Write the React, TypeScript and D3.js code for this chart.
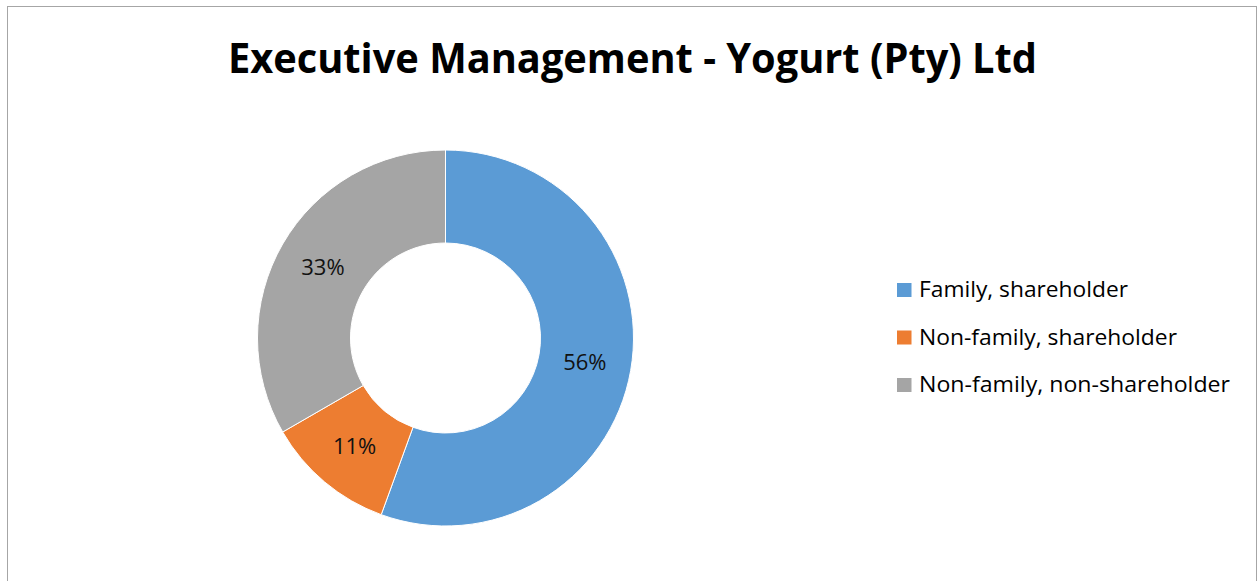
import React from "react";
import * as d3 from "d3";

const title = "Executive Management - Yogurt (Pty) Ltd";
const categories = ["Family, shareholder", "Non-family, shareholder", "Non-family, non-shareholder"];
const values = [5, 1, 3];
const colors = ["#5B9BD5", "#ED7D31", "#A5A5A5"];
const legendWidths = [209, 258, 311];

export default function App() {
  const W = 1258, H = 581;
  const cx = 445.5, cy = 338, R = 188, r = 95;
  const total = d3.sum(values);
  const pie = d3.pie<number>().sort(null).value((d) => d)(values);
  const arc = d3.arc<d3.PieArcDatum<number>>().innerRadius(r).outerRadius(R);
  const fmt = d3.format(".0%");
  return (
    <svg width={W} height={H} style={{ position: "absolute", left: 0, top: 0 }}>
      <rect x={0} y={0} width={W} height={H} fill="#fff" />
      <rect x={7.5} y={6.5} width={1249} height={H + 20} fill="#fff" stroke="#a6a6a6" strokeWidth={1} />
      <text x={228} y={73} fontFamily="'Open Sans', sans-serif" fontWeight={700} fontSize={42} fill="#000"
        textLength={809} lengthAdjust="spacingAndGlyphs">{title}</text>
      <g transform={`translate(${cx},${cy})`}>
        {pie.map((p, i) => (
          <path key={i} d={arc(p) || ""} fill={colors[i]} stroke="#fff" strokeWidth={1} />
        ))}
        {pie.map((p, i) => {
          const [x, y] = arc.centroid(p);
          return (
            <text key={"l" + i} x={x} y={y} dy="0.36em" textAnchor="middle" fontFamily="'Open Sans', sans-serif"
              fontSize={22} fill="#111">{fmt(values[i] / total)}</text>
          );
        })}
      </g>
      {categories.map((c, i) => {
        const base = 297 + i * 47.5;
        return (
          <g key={c}>
            <rect x={897} y={base - 14} width={14.5} height={14} fill={colors[i]} />
            <text x={919} y={base} fontFamily="'Open Sans', sans-serif" fontSize={21} fill="#000"
              textLength={legendWidths[i]} lengthAdjust="spacingAndGlyphs">{c}</text>
          </g>
        );
      })}
    </svg>
  );
}
